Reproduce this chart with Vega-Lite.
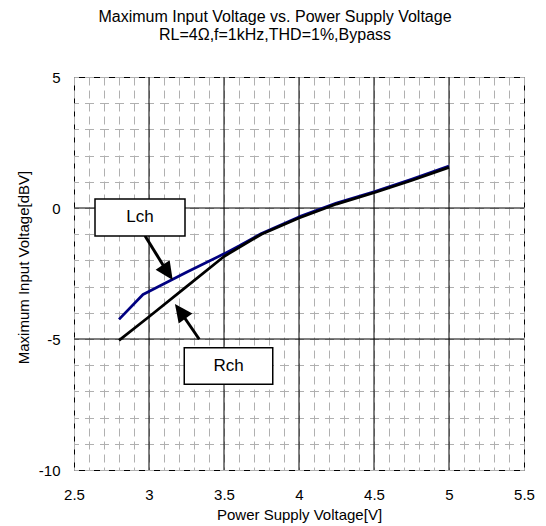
{
  "$schema": "https://vega.github.io/schema/vega-lite/v6.json",
  "width": 450,
  "height": 393,
  "autosize": {"type": "none"},
  "padding": {"left": 74, "top": 77, "right": 22, "bottom": 56},
  "background": "white",
  "config": {
    "view": {"stroke": "black", "strokeWidth": 1},
    "font": "Liberation Sans",
    "axis": {
      "labelFontSize": 15,
      "labelColor": "black",
      "labelFont": "Liberation Sans",
      "labelFlush": false,
      "labelOverlap": false,
      "ticks": false,
      "domain": false,
      "grid": true,
      "gridColor": "#b0b0b0",
      "gridWidth": 1,
      "titleFontSize": 15,
      "titleFontWeight": "normal",
      "titleColor": "black",
      "titleFont": "Liberation Sans",
      "titleBaseline": "alphabetic"
    },
    "axisX": {"labelPadding": 17, "gridDash": [8, 5], "titleY": 49},
    "axisY": {"labelPadding": 14, "gridDash": [9, 6], "gridDashOffset": 4.5, "titleX": -46, "titleY": 190}
  },
  "title": {
    "text": "Maximum Input Voltage vs. Power Supply Voltage",
    "subtitle": "RL=4Ω,f=1kHz,THD=1%,Bypass",
    "fontSize": 16,
    "subtitleFontSize": 16,
    "fontWeight": "normal",
    "color": "black",
    "subtitleColor": "black",
    "font": "Liberation Sans",
    "subtitleFont": "Liberation Sans",
    "anchor": "middle",
    "dx": -24,
    "offset": 27,
    "subtitlePadding": 2
  },
  "datasets": {
    "curves": [
      {"ch": "Lch", "x": 2.8, "y": -4.25},
      {"ch": "Lch", "x": 2.96, "y": -3.3},
      {"ch": "Lch", "x": 3.25, "y": -2.45},
      {"ch": "Lch", "x": 3.5, "y": -1.75},
      {"ch": "Lch", "x": 3.6, "y": -1.45},
      {"ch": "Lch", "x": 3.75, "y": -0.97},
      {"ch": "Lch", "x": 4.0, "y": -0.34},
      {"ch": "Lch", "x": 4.25, "y": 0.19},
      {"ch": "Lch", "x": 4.5, "y": 0.62},
      {"ch": "Lch", "x": 4.75, "y": 1.1},
      {"ch": "Lch", "x": 5.0, "y": 1.6},
      {"ch": "Rch", "x": 2.8, "y": -5.05},
      {"ch": "Rch", "x": 3.0, "y": -4.15},
      {"ch": "Rch", "x": 3.25, "y": -3.0},
      {"ch": "Rch", "x": 3.5, "y": -1.85},
      {"ch": "Rch", "x": 3.75, "y": -1.0},
      {"ch": "Rch", "x": 4.0, "y": -0.38},
      {"ch": "Rch", "x": 4.25, "y": 0.15},
      {"ch": "Rch", "x": 4.5, "y": 0.58},
      {"ch": "Rch", "x": 4.75, "y": 1.05},
      {"ch": "Rch", "x": 5.0, "y": 1.55}
    ],
    "labels": [
      {"label": "Lch", "x1": 2.64, "x2": 3.24, "y1": 0.34, "y2": -1.07, "tx": 2.94, "ty": -0.36},
      {"label": "Rch", "x1": 3.235, "x2": 3.825, "y1": -5.33, "y2": -6.73, "tx": 3.53, "ty": -6.03}
    ],
    "shafts": [
      {"label": "Lch", "x1": 2.973, "y1": -1.06, "x2": 3.121, "y2": -2.43},
      {"label": "Rch", "x1": 3.335, "y1": -5.01, "x2": 3.212, "y2": -3.98}
    ]
  },
  "layer": [
    {
      "data": {"values": [{"x": 3}, {"x": 3.5}, {"x": 4}, {"x": 4.5}, {"x": 5}]},
      "mark": {"type": "rule", "color": "black", "strokeWidth": 1},
      "encoding": {
        "x": {"field": "x", "type": "quantitative", "title": "Power Supply Voltage[V]",
          "scale": {"domain": [2.5, 5.5], "nice": false, "zero": false},
          "axis": {"values": [2.5, 2.6, 2.7, 2.8, 2.9, 3.0, 3.1, 3.2, 3.3, 3.4, 3.5, 3.6, 3.7, 3.8, 3.9, 4.0, 4.1, 4.2, 4.3, 4.4, 4.5, 4.6, 4.7, 4.8, 4.9, 5.0, 5.1, 5.2, 5.3, 5.4, 5.5],
            "labelExpr": "round(datum.value*10) % 5 == 0 ? toString(round(datum.value*10)/10) : ''"}}
      }
    },
    {
      "data": {"values": [{"y": 0}, {"y": -5}]},
      "mark": {"type": "rule", "color": "black", "strokeWidth": 1},
      "encoding": {
        "y": {"field": "y", "type": "quantitative", "title": "Maximum Input Voltage[dBV]",
          "scale": {"domain": [-10, 5], "nice": false, "zero": false},
          "axis": {"values": [-10, -9, -8, -7, -6, -5, -4, -3, -2, -1, 0, 1, 2, 3, 4, 5],
            "labelExpr": "datum.value % 5 == 0 ? toString(datum.value) : ''"}}
      }
    },
    {
      "data": {"name": "curves"},
      "mark": {"type": "line", "strokeWidth": 2.75, "strokeJoin": "round"},
      "encoding": {
        "x": {"field": "x", "type": "quantitative", "title": "Power Supply Voltage[V]",
          "scale": {"domain": [2.5, 5.5], "nice": false, "zero": false},
          "axis": {"values": [2.5, 2.6, 2.7, 2.8, 2.9, 3.0, 3.1, 3.2, 3.3, 3.4, 3.5, 3.6, 3.7, 3.8, 3.9, 4.0, 4.1, 4.2, 4.3, 4.4, 4.5, 4.6, 4.7, 4.8, 4.9, 5.0, 5.1, 5.2, 5.3, 5.4, 5.5],
            "labelExpr": "round(datum.value*10) % 5 == 0 ? toString(round(datum.value*10)/10) : ''"}},
        "y": {"field": "y", "type": "quantitative", "title": "Maximum Input Voltage[dBV]",
          "scale": {"domain": [-10, 5], "nice": false, "zero": false},
          "axis": {"values": [-10, -9, -8, -7, -6, -5, -4, -3, -2, -1, 0, 1, 2, 3, 4, 5],
            "labelExpr": "datum.value % 5 == 0 ? toString(datum.value) : ''"}},
        "color": {"field": "ch", "type": "nominal", "scale": {"domain": ["Lch", "Rch"], "range": ["#000080", "#000000"]}, "legend": null},
        "order": {"field": "x", "type": "quantitative"}
      }
    },
    {
      "data": {"name": "shafts"},
      "mark": {"type": "rule", "color": "black", "strokeWidth": 3},
      "encoding": {
        "x": {"field": "x1", "type": "quantitative", "title": "Power Supply Voltage[V]",
          "axis": {"values": [2.5, 2.6, 2.7, 2.8, 2.9, 3.0, 3.1, 3.2, 3.3, 3.4, 3.5, 3.6, 3.7, 3.8, 3.9, 4.0, 4.1, 4.2, 4.3, 4.4, 4.5, 4.6, 4.7, 4.8, 4.9, 5.0, 5.1, 5.2, 5.3, 5.4, 5.5],
            "labelExpr": "round(datum.value*10) % 5 == 0 ? toString(round(datum.value*10)/10) : ''"}},
        "y": {"field": "y1", "type": "quantitative", "title": "Maximum Input Voltage[dBV]",
          "axis": {"values": [-10, -9, -8, -7, -6, -5, -4, -3, -2, -1, 0, 1, 2, 3, 4, 5],
            "labelExpr": "datum.value % 5 == 0 ? toString(datum.value) : ''"}},
        "x2": {"field": "x2"},
        "y2": {"field": "y2"}
      }
    },
    {
      "data": {"values": [{"x": 3.158, "y": -2.748}]},
      "mark": {"type": "point", "shape": "M0,0L-0.47,1L0.47,1Z", "filled": true, "color": "black", "opacity": 1, "size": 1296, "angle": 146},
      "encoding": {
        "x": {"field": "x", "type": "quantitative", "title": "Power Supply Voltage[V]",
          "axis": {"values": [2.5, 2.6, 2.7, 2.8, 2.9, 3.0, 3.1, 3.2, 3.3, 3.4, 3.5, 3.6, 3.7, 3.8, 3.9, 4.0, 4.1, 4.2, 4.3, 4.4, 4.5, 4.6, 4.7, 4.8, 4.9, 5.0, 5.1, 5.2, 5.3, 5.4, 5.5],
            "labelExpr": "round(datum.value*10) % 5 == 0 ? toString(round(datum.value*10)/10) : ''"}},
        "y": {"field": "y", "type": "quantitative", "title": "Maximum Input Voltage[dBV]",
          "axis": {"values": [-10, -9, -8, -7, -6, -5, -4, -3, -2, -1, 0, 1, 2, 3, 4, 5],
            "labelExpr": "datum.value % 5 == 0 ? toString(datum.value) : ''"}}
      }
    },
    {
      "data": {"values": [{"x": 3.173, "y": -3.664}]},
      "mark": {"type": "point", "shape": "M0,0L-0.47,1L0.47,1Z", "filled": true, "color": "black", "opacity": 1, "size": 1296, "angle": 324},
      "encoding": {
        "x": {"field": "x", "type": "quantitative", "title": "Power Supply Voltage[V]",
          "axis": {"values": [2.5, 2.6, 2.7, 2.8, 2.9, 3.0, 3.1, 3.2, 3.3, 3.4, 3.5, 3.6, 3.7, 3.8, 3.9, 4.0, 4.1, 4.2, 4.3, 4.4, 4.5, 4.6, 4.7, 4.8, 4.9, 5.0, 5.1, 5.2, 5.3, 5.4, 5.5],
            "labelExpr": "round(datum.value*10) % 5 == 0 ? toString(round(datum.value*10)/10) : ''"}},
        "y": {"field": "y", "type": "quantitative", "title": "Maximum Input Voltage[dBV]",
          "axis": {"values": [-10, -9, -8, -7, -6, -5, -4, -3, -2, -1, 0, 1, 2, 3, 4, 5],
            "labelExpr": "datum.value % 5 == 0 ? toString(datum.value) : ''"}}
      }
    },
    {
      "data": {"name": "labels"},
      "mark": {"type": "rect", "fill": "white", "stroke": "black", "strokeWidth": 1.5},
      "encoding": {
        "x": {"field": "x1", "type": "quantitative", "title": "Power Supply Voltage[V]",
          "axis": {"values": [2.5, 2.6, 2.7, 2.8, 2.9, 3.0, 3.1, 3.2, 3.3, 3.4, 3.5, 3.6, 3.7, 3.8, 3.9, 4.0, 4.1, 4.2, 4.3, 4.4, 4.5, 4.6, 4.7, 4.8, 4.9, 5.0, 5.1, 5.2, 5.3, 5.4, 5.5],
            "labelExpr": "round(datum.value*10) % 5 == 0 ? toString(round(datum.value*10)/10) : ''"}},
        "x2": {"field": "x2"},
        "y": {"field": "y1", "type": "quantitative", "title": "Maximum Input Voltage[dBV]",
          "axis": {"values": [-10, -9, -8, -7, -6, -5, -4, -3, -2, -1, 0, 1, 2, 3, 4, 5],
            "labelExpr": "datum.value % 5 == 0 ? toString(datum.value) : ''"}},
        "y2": {"field": "y2"}
      }
    },
    {
      "data": {"name": "labels"},
      "mark": {"type": "text", "fontSize": 17, "font": "Liberation Sans", "color": "black", "align": "center", "baseline": "middle"},
      "encoding": {
        "x": {"field": "tx", "type": "quantitative", "title": "Power Supply Voltage[V]",
          "axis": {"values": [2.5, 2.6, 2.7, 2.8, 2.9, 3.0, 3.1, 3.2, 3.3, 3.4, 3.5, 3.6, 3.7, 3.8, 3.9, 4.0, 4.1, 4.2, 4.3, 4.4, 4.5, 4.6, 4.7, 4.8, 4.9, 5.0, 5.1, 5.2, 5.3, 5.4, 5.5],
            "labelExpr": "round(datum.value*10) % 5 == 0 ? toString(round(datum.value*10)/10) : ''"}},
        "y": {"field": "ty", "type": "quantitative", "title": "Maximum Input Voltage[dBV]",
          "axis": {"values": [-10, -9, -8, -7, -6, -5, -4, -3, -2, -1, 0, 1, 2, 3, 4, 5],
            "labelExpr": "datum.value % 5 == 0 ? toString(datum.value) : ''"}},
        "text": {"field": "label"}
      }
    }
  ]
}
